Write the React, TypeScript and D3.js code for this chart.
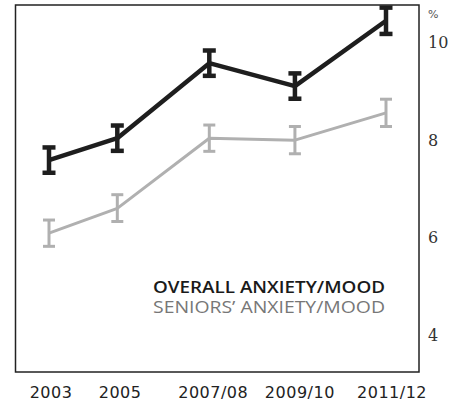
import React from 'react';
import * as d3 from 'd3';

const periods = ['2003', '2005', '2007/08', '2009/10', '2011/12'];
// position of each survey along the time axis
const periodPos = [0, 0.75, 1.76, 2.7, 3.7];

const overall = [7.59, 8.04, 9.58, 9.11, 10.45];
const overallLow = [7.33, 7.78, 9.32, 8.85, 10.18];
const overallHigh = [7.85, 8.3, 9.84, 9.37, 10.72];

const seniors = [6.09, 6.6, 8.04, 8.0, 8.56];
const seniorsLow = [5.82, 6.33, 7.77, 7.72, 8.28];
const seniorsHigh = [6.36, 6.88, 8.31, 8.28, 8.84];

const yTicks = [4, 6, 8, 10];

const W = 456;
const H = 402;
const frame = { left: 15.5, right: 419, top: 5, bottom: 372 };

const x = d3.scaleLinear().domain([0, 3.7]).range([49, 386]);
const labelX = d3.scaleLinear().domain([0, 3.7]).range([51, 392]);
const y = d3.scaleLinear().domain([4, 10]).range([335, 42.7]);

interface SeriesProps {
  values: number[];
  low: number[];
  high: number[];
  color: string;
  width: number;
  capWidth: number;
}

const Series: React.FC<SeriesProps> = ({ values, low, high, color, width, capWidth }) => {
  const line = d3
    .line<number>()
    .x((_, i) => x(periodPos[i]))
    .y((d) => y(d));
  return (
    <g>
      <path d={line(values) || ''} fill="none" stroke={color} strokeWidth={width} strokeLinejoin="round" />
      {values.map((_, i) => {
        const cx = x(periodPos[i]);
        return (
          <g key={i} stroke={color}>
            <line x1={cx} x2={cx} y1={y(low[i])} y2={y(high[i])} strokeWidth={width} />
            <line x1={cx - capWidth / 2} x2={cx + capWidth / 2} y1={y(low[i])} y2={y(low[i])} strokeWidth={width} />
            <line x1={cx - capWidth / 2} x2={cx + capWidth / 2} y1={y(high[i])} y2={y(high[i])} strokeWidth={width} />
          </g>
        );
      })}
    </g>
  );
};

export default function App() {
  return (
    <svg
      width={W}
      height={H}
      style={{ position: 'absolute', left: 0, top: 0, background: '#fff' }}
      fontFamily="'DejaVu Sans', sans-serif"
    >
      <rect
        x={frame.left}
        y={frame.top}
        width={frame.right - frame.left}
        height={frame.bottom - frame.top}
        fill="none"
        stroke="#222"
        strokeWidth={1.5}
      />
      <Series values={seniors} low={seniorsLow} high={seniorsHigh} color="#b0b0b0" width={3} capWidth={12} />
      <Series values={overall} low={overallLow} high={overallHigh} color="#1e1e1e" width={4.5} capWidth={13} />

      {yTicks.map((t) => (
        <text key={t} x={428} y={y(t)} dy="0.35em" fontSize={16} fontFamily="'DejaVu Serif', serif" fill="#333">
          {t}
        </text>
      ))}
      <text x={428} y={18} fontSize={11} fill="#555">%</text>

      {periods.map((p, i) => (
        <text
          key={p}
          x={labelX(periodPos[i])}
          y={398}
          textAnchor="middle"
          fontSize={16}
          letterSpacing={0.5}
          fill="#222"
        >
          {p}
        </text>
      ))}

      <text
        x={385}
        y={293}
        textAnchor="end"
        fontSize={16}
        fontWeight={600}
        fontFamily="'Open Sans', sans-serif"
        fill="#1a1a1a"
        textLength={232}
        lengthAdjust="spacingAndGlyphs"
      >
        OVERALL ANXIETY/MOOD
      </text>
      <text
        x={385}
        y={313}
        textAnchor="end"
        fontSize={16}
        fontFamily="'Open Sans', sans-serif"
        fill="#777"
        textLength={232}
        lengthAdjust="spacingAndGlyphs"
      >
        SENIORS’ ANXIETY/MOOD
      </text>
    </svg>
  );
}
